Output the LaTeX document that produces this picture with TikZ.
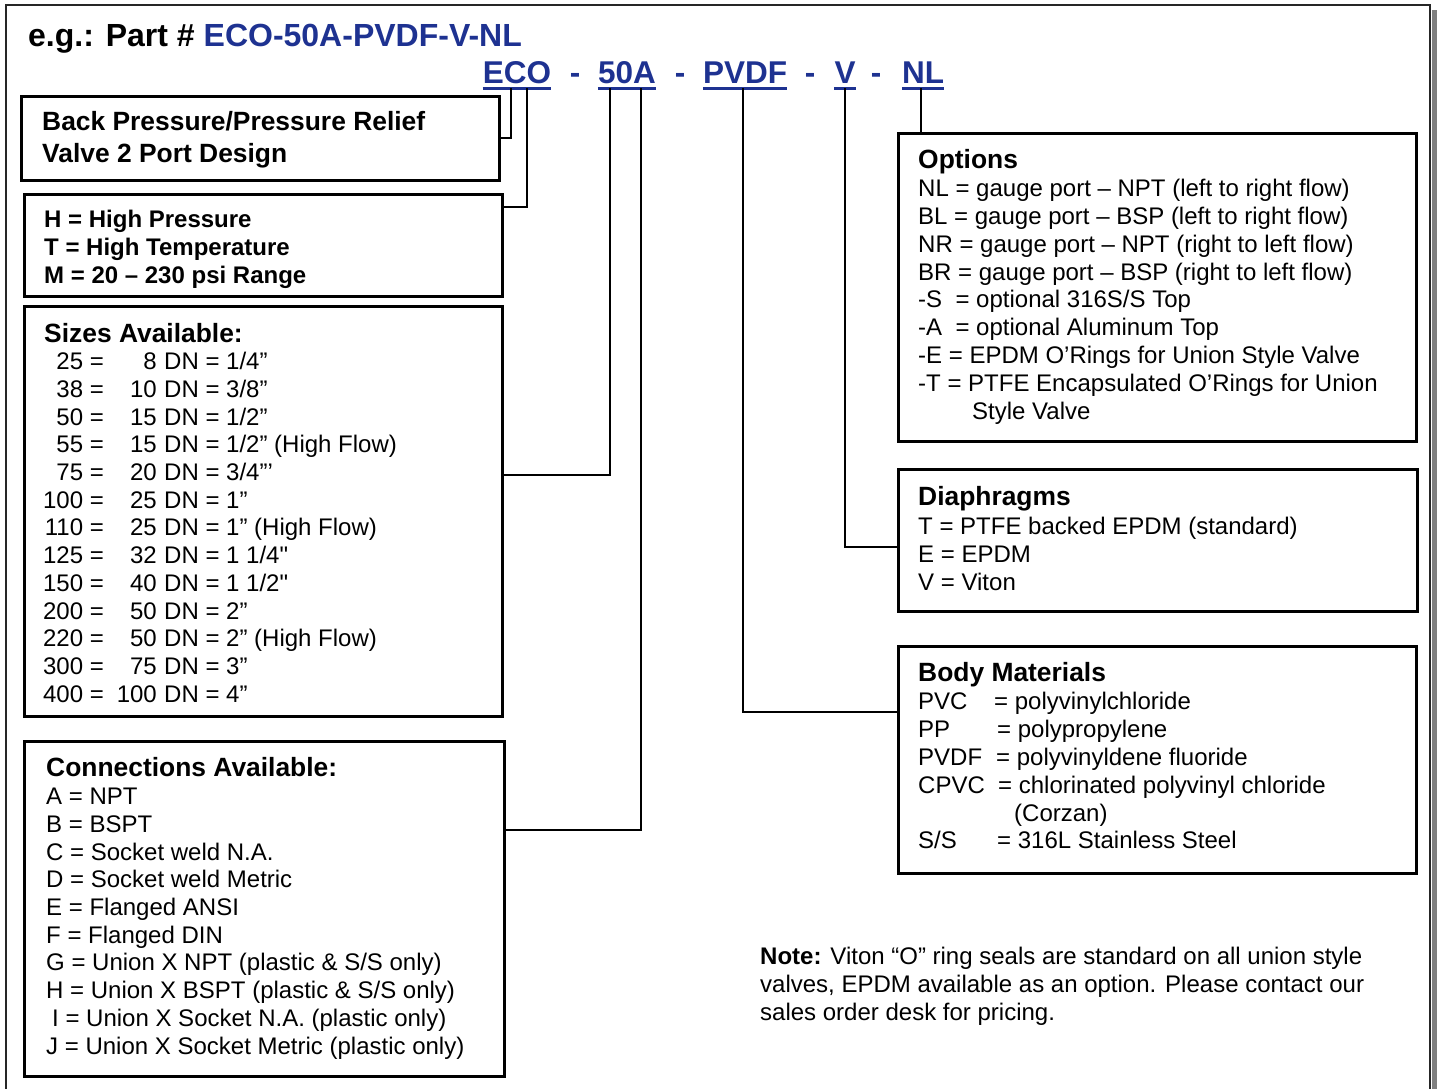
\documentclass[tikz,border=0pt]{standalone}
\usepackage{fontspec}
\setmainfont{Liberation Sans}
\definecolor{codeblue}{RGB}{30,50,145}

\begin{document}
\begin{tikzpicture}[x=1pt,y=-1pt]
    \tikzset{
        panel/.style={draw, line width=2.6pt, inner sep=0pt, anchor=north west},
        link/.style={line width=2.4pt},
        code/.style={text=codeblue, font=\fontsize{31.5}{36}\selectfont\bfseries, inner sep=0pt, anchor=base},
        uline/.style={draw=codeblue, line width=3pt},
        head/.style={font=\fontsize{26.4}{30}\selectfont\bfseries, inner sep=0pt, anchor=base west},
        bold/.style={font=\fontsize{24}{28}\selectfont\bfseries, inner sep=0pt, anchor=base west},
        entry/.style={font=\fontsize{24}{28}\selectfont, inner sep=0pt, anchor=base west},
        num/.style={font=\fontsize{24}{28}\selectfont, inner sep=0pt, anchor=base east}
    }
    \path[use as bounding box] (0,0) rectangle (1437,1089);
    \clip (0,0) rectangle (1437,1089);

    % frame and shadow
    \fill[gray] (1432,10) rectangle (1437,1100);
    \draw[line width=2.2pt, draw=black!85] (6,5) rectangle (1430,1100);

    % part number
    \node[font=\fontsize{32}{36}\selectfont\bfseries, inner sep=0pt, anchor=base west] (title) at (28,47)
        {e.g.: Part \# \textcolor{codeblue}{ECO-50A-PVDF-V-NL}};
    \foreach \n/\t/\x in {eco/ECO/517, a50/50A/627, pvdf/PVDF/745, v/V/845, nl/NL/923}{
        \node[code] (\n) at (\x,84) {\t};
        \draw[uline] ([yshift=-4.5pt]\n.base west) -- ([yshift=-4.5pt]\n.base east);
    }
    \foreach \x [count=\i] in {575,680,810,876}
        \node[code] (dash\i) at (\x,84) {-};

    % boxes
    \node[panel, minimum width=478pt, minimum height=84pt] (bp) at (20,95) {};
    \node[panel, minimum width=478pt, minimum height=102pt] (hi) at (23,193) {};
    \node[panel, minimum width=478pt, minimum height=410pt] (sz) at (23,305) {};
    \node[panel, minimum width=480pt, minimum height=335pt] (cn) at (23,740) {};
    \node[panel, minimum width=518pt, minimum height=308pt] (op) at (897,132) {};
    \node[panel, minimum width=519pt, minimum height=142pt] (dp) at (897,468) {};
    \node[panel, minimum width=518pt, minimum height=227pt] (bm) at (897,645) {};

    % connectors
    \draw[link] ([xshift=-6pt,yshift=-4.5pt]eco.base) |- (bp.east);
    \draw[link] ([xshift=10pt,yshift=-4.5pt]eco.base) |- ([yshift=-14pt]hi.north east);
    \draw[link] ([xshift=-17pt,yshift=-4.5pt]a50.base) |- ([yshift=-170pt]sz.north east);
    \draw[link] ([xshift=14pt,yshift=-4.5pt]a50.base) |- ([yshift=-90pt]cn.north east);
    \draw[link] ([xshift=-2pt,yshift=-4.5pt]pvdf.base) |- ([yshift=-67pt]bm.north west);
    \draw[link] ([yshift=-4.5pt]v.base) |- ([yshift=-79pt]dp.north west);
    \draw[link] ([xshift=-2pt,yshift=-4.5pt]nl.base) -- ([xshift=-2pt]nl.base |- op.north);

    % type
    \node[head] (bp1) at (42,131) {Back Pressure/Pressure Relief};
    \node[head] (bp2) at (42,162) {Valve 2 Port Design};
    \foreach \t [count=\i] in {H = High Pressure, T = High Temperature, M = 20 – 230 psi Range}
        \node[bold] (hi\i) at (44,{199+28*\i}) {\t};

    % sizes
    \node[head] (szh) at (44,342) {Sizes Available:};
    \foreach \a/\b/\c [count=\i] in {25/8/{DN = 1/4”}, 38/10/{DN = 3/8”}, 50/15/{DN = 1/2”},
        55/15/{DN = 1/2” (High Flow)}, 75/20/{DN = 3/4”’}, 100/25/{DN = 1”},
        110/25/{DN = 1” (High Flow)}, 125/32/{DN = 1 1/4\textquotedbl}, 150/40/{DN = 1 1/2\textquotedbl},
        200/50/{DN = 2”}, 220/50/{DN = 2” (High Flow)}, 300/75/{DN = 3”}, 400/100/{DN = 4”}}{
        \node[num] (sza\i) at (104,{342.3+27.67*\i}) {\a\ =};
        \node[num] (szb\i) at (157,{342.3+27.67*\i}) {\b};
        \node[entry] (szc\i) at (164,{342.3+27.67*\i}) {\c};
    }

    % connections
    \node[head] (cnh) at (46,776) {Connections Available:};
    \foreach \t [count=\i] in {A = NPT, B = BSPT, C = Socket weld N.A., D = Socket weld Metric,
        E = Flanged ANSI, F = Flanged DIN, G = Union X NPT (plastic \& S/S only),
        H = Union X BSPT (plastic \& S/S only), \kern6pt I = Union X Socket N.A. (plastic only),
        J = Union X Socket Metric (plastic only)}
        \node[entry] (cn\i) at (46,{777+27.7*\i}) {\t};

    % options
    \node[head] (oph) at (918,168) {Options};
    \foreach \t [count=\i] in {NL = gauge port – NPT (left to right flow),
        BL = gauge port – BSP (left to right flow), NR = gauge port – NPT (right to left flow),
        BR = gauge port – BSP (right to left flow), -S\ \ = optional 316S/S Top,
        -A\ \ = optional Aluminum Top, -E = EPDM O’Rings for Union Style Valve,
        -T = PTFE Encapsulated O’Rings for Union}
        \node[entry] (op\i) at (918,{169+27.75*\i}) {\t};
    \node[entry] (op9) at (972,419) {Style Valve};

    % diaphragms
    \node[head] (dph) at (918,505) {Diaphragms};
    \foreach \t [count=\i] in {T = PTFE backed EPDM (standard), E = EPDM, V = Viton}
        \node[entry] (dp\i) at (918,{506+28*\i}) {\t};

    % body materials
    \node[head] (bmh) at (918,681) {Body Materials};
    \foreach \k/\t/\x [count=\i] in {PVC/= polyvinylchloride/994, PP/= polypropylene/997,
        PVDF/= polyvinyldene fluoride/996, CPVC/= chlorinated polyvinyl chloride/998,
        {}/(Corzan)/1014, S{/}S/= 316L Stainless Steel/997}{
        \node[entry] (bmk\i) at (918,{682+27.8*\i}) {\k};
        \node[entry] (bmv\i) at (\x,{682+27.8*\i}) {\t};
    }

    % note
    \node[entry] (note1) at (760,964) {\textbf{Note:} Viton “O” ring seals are standard on all union style};
    \node[entry] (note2) at (760,992) {valves, EPDM available as an option. Please contact our};
    \node[entry] (note3) at (760,1020) {sales order desk for pricing.};
\end{tikzpicture}
\end{document}
